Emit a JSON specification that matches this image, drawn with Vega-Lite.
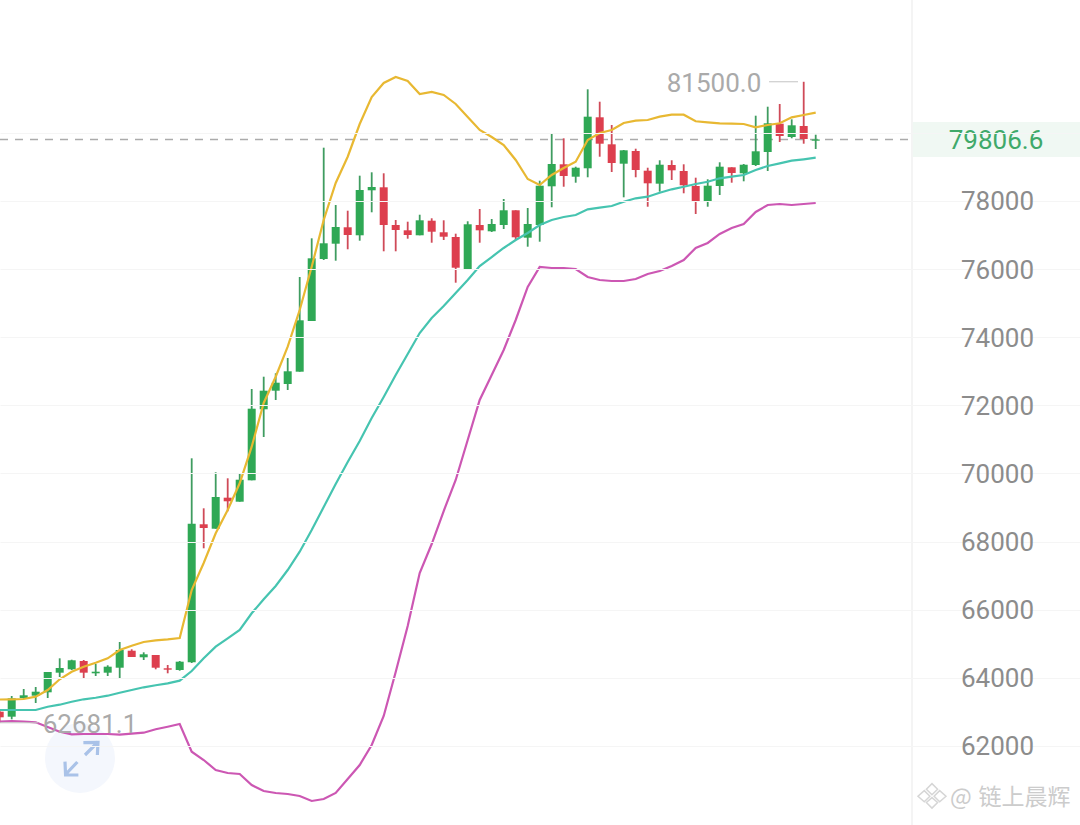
{"$schema":"https://vega.github.io/schema/vega-lite/v6.json","width":1080,"height":825,"padding":0,"autosize":{"type":"none"},"background":"white","config":{"view":{"stroke":null}},
"datasets":{"k":[
{"i":0,"dir":"down","open":63006,"high":63085,"low":62681,"close":62841,"upper":63364,"mid":63055,"lower":62718},
{"i":1,"dir":"up","open":62859,"high":63466,"low":62782,"close":63399,"upper":63370,"mid":63055,"lower":62732},
{"i":2,"dir":"up","open":63408,"high":63672,"low":63378,"close":63487,"upper":63378,"mid":63055,"lower":62718},
{"i":3,"dir":"up","open":63475,"high":63731,"low":63261,"close":63593,"upper":63446,"mid":63055,"lower":62694},
{"i":4,"dir":"up","open":63575,"high":64171,"low":63408,"close":64171,"upper":63643,"mid":63152,"lower":62556},
{"i":5,"dir":"up","open":64151,"high":64573,"low":64024,"close":64289,"upper":63957,"mid":63211,"lower":62418},
{"i":6,"dir":"up","open":64250,"high":64532,"low":64230,"close":64515,"upper":64180,"mid":63299,"lower":62342},
{"i":7,"dir":"down","open":64494,"high":64523,"low":63995,"close":64151,"upper":64327,"mid":63370,"lower":62351},
{"i":8,"dir":"up","open":64133,"high":64406,"low":64054,"close":64180,"upper":64444,"mid":63416,"lower":62351},
{"i":9,"dir":"up","open":64151,"high":64368,"low":64054,"close":64327,"upper":64573,"mid":63475,"lower":62351},
{"i":10,"dir":"up","open":64297,"high":65052,"low":63974,"close":64817,"upper":64817,"mid":63563,"lower":62330},
{"i":11,"dir":"down","open":64796,"high":64838,"low":64611,"close":64611,"upper":64943,"mid":63643,"lower":62360},
{"i":12,"dir":"up","open":64603,"high":64749,"low":64523,"close":64691,"upper":65052,"mid":63722,"lower":62389},
{"i":13,"dir":"down","open":64670,"high":64670,"low":64250,"close":64297,"upper":65102,"mid":63781,"lower":62489},
{"i":14,"dir":"down","open":64280,"high":64377,"low":64133,"close":64239,"upper":65131,"mid":63839,"lower":62565},
{"i":15,"dir":"up","open":64230,"high":64494,"low":64209,"close":64474,"upper":65169,"mid":63916,"lower":62644},
{"i":16,"dir":"up","open":64456,"high":70445,"low":64436,"close":68525,"upper":66579,"mid":64200,"lower":61831},
{"i":17,"dir":"down","open":68508,"high":68977,"low":67803,"close":68399,"upper":67371,"mid":64573,"lower":61587},
{"i":18,"dir":"up","open":68378,"high":70034,"low":68378,"close":69309,"upper":68243,"mid":64914,"lower":61294},
{"i":19,"dir":"down","open":69289,"high":69858,"low":68889,"close":69183,"upper":68927,"mid":65160,"lower":61206},
{"i":20,"dir":"up","open":69171,"high":70005,"low":69171,"close":69817,"upper":69711,"mid":65404,"lower":61176},
{"i":21,"dir":"up","open":69799,"high":72480,"low":69799,"close":71902,"upper":70786,"mid":65895,"lower":60853},
{"i":22,"dir":"up","open":71884,"high":72841,"low":71071,"close":72430,"upper":72069,"mid":66306,"lower":60677},
{"i":23,"dir":"up","open":72430,"high":72941,"low":72157,"close":72665,"upper":72841,"mid":66696,"lower":60619},
{"i":24,"dir":"up","open":72627,"high":73390,"low":72451,"close":73000,"upper":73722,"mid":67166,"lower":60589},
{"i":25,"dir":"up","open":72988,"high":75768,"low":72988,"close":74497,"upper":74799,"mid":67703,"lower":60530},
{"i":26,"dir":"up","open":74476,"high":76904,"low":74476,"close":76317,"upper":76071,"mid":68340,"lower":60384},
{"i":27,"dir":"up","open":76297,"high":79565,"low":76267,"close":76758,"upper":77442,"mid":69015,"lower":60442},
{"i":28,"dir":"up","open":76746,"high":77882,"low":76247,"close":77236,"upper":78528,"mid":69691,"lower":60619},
{"i":29,"dir":"down","open":77228,"high":77715,"low":76582,"close":77001,"upper":79300,"mid":70337,"lower":61030},
{"i":30,"dir":"up","open":76993,"high":78743,"low":76834,"close":78323,"upper":80260,"mid":70953,"lower":61441},
{"i":31,"dir":"up","open":78314,"high":78842,"low":77668,"close":78411,"upper":81053,"mid":71629,"lower":62028},
{"i":32,"dir":"down","open":78402,"high":78813,"low":76523,"close":77295,"upper":81464,"mid":72245,"lower":62879},
{"i":33,"dir":"down","open":77295,"high":77442,"low":76523,"close":77148,"upper":81640,"mid":72891,"lower":64171},
{"i":34,"dir":"down","open":77139,"high":77392,"low":76893,"close":77001,"upper":81523,"mid":73508,"lower":65522},
{"i":35,"dir":"up","open":76993,"high":77597,"low":76993,"close":77433,"upper":81141,"mid":74124,"lower":67078},
{"i":36,"dir":"down","open":77421,"high":77492,"low":76775,"close":77098,"upper":81200,"mid":74565,"lower":67929},
{"i":37,"dir":"down","open":77081,"high":77433,"low":76855,"close":76951,"upper":81112,"mid":74917,"lower":68898},
{"i":38,"dir":"down","open":76943,"high":77040,"low":75601,"close":76041,"upper":80848,"mid":75299,"lower":69808},
{"i":39,"dir":"up","open":76003,"high":77404,"low":75974,"close":77316,"upper":80466,"mid":75680,"lower":70983},
{"i":40,"dir":"down","open":77295,"high":77765,"low":76775,"close":77139,"upper":80084,"mid":76091,"lower":72157},
{"i":41,"dir":"up","open":77110,"high":77471,"low":77089,"close":77324,"upper":79879,"mid":76355,"lower":72891},
{"i":42,"dir":"up","open":77295,"high":78058,"low":77178,"close":77727,"upper":79644,"mid":76620,"lower":73625},
{"i":43,"dir":"down","open":77727,"high":77727,"low":76855,"close":76934,"upper":79203,"mid":76855,"lower":74506},
{"i":44,"dir":"up","open":76922,"high":77794,"low":76658,"close":77324,"upper":78646,"mid":77060,"lower":75475},
{"i":45,"dir":"up","open":77295,"high":78596,"low":76805,"close":78449,"upper":78469,"mid":77295,"lower":76062},
{"i":46,"dir":"up","open":78431,"high":79987,"low":77815,"close":79086,"upper":78763,"mid":77442,"lower":76033},
{"i":47,"dir":"down","open":79077,"high":79840,"low":78419,"close":78734,"upper":78969,"mid":77530,"lower":76033},
{"i":48,"dir":"up","open":78713,"high":79007,"low":78537,"close":78977,"upper":79153,"mid":77589,"lower":76003},
{"i":49,"dir":"up","open":78960,"high":81279,"low":78696,"close":80475,"upper":79791,"mid":77756,"lower":75768},
{"i":50,"dir":"down","open":80457,"high":80915,"low":79300,"close":79682,"upper":79996,"mid":77803,"lower":75680},
{"i":51,"dir":"down","open":79664,"high":80231,"low":78851,"close":79115,"upper":80084,"mid":77853,"lower":75651},
{"i":52,"dir":"up","open":79095,"high":79497,"low":78108,"close":79488,"upper":80290,"mid":77979,"lower":75651},
{"i":53,"dir":"down","open":79468,"high":79535,"low":78696,"close":78910,"upper":80357,"mid":78079,"lower":75710},
{"i":54,"dir":"down","open":78889,"high":78977,"low":77832,"close":78519,"upper":80378,"mid":78126,"lower":75856},
{"i":55,"dir":"up","open":78508,"high":79195,"low":78273,"close":79065,"upper":80475,"mid":78243,"lower":75944},
{"i":56,"dir":"down","open":79057,"high":79195,"low":78616,"close":78901,"upper":80533,"mid":78343,"lower":76091},
{"i":57,"dir":"down","open":78880,"high":79077,"low":78226,"close":78461,"upper":80533,"mid":78419,"lower":76267},
{"i":58,"dir":"down","open":78440,"high":78684,"low":77618,"close":78000,"upper":80340,"mid":78499,"lower":76620},
{"i":59,"dir":"up","open":77970,"high":78637,"low":77832,"close":78449,"upper":80310,"mid":78566,"lower":76767},
{"i":60,"dir":"up","open":78440,"high":79136,"low":78176,"close":79007,"upper":80281,"mid":78666,"lower":77031},
{"i":61,"dir":"down","open":78989,"high":78989,"low":78537,"close":78822,"upper":80269,"mid":78713,"lower":77207},
{"i":62,"dir":"up","open":78813,"high":79086,"low":78578,"close":79065,"upper":80260,"mid":78763,"lower":77324},
{"i":63,"dir":"up","open":79057,"high":80504,"low":79027,"close":79459,"upper":80163,"mid":78910,"lower":77677},
{"i":64,"dir":"up","open":79438,"high":80768,"low":78880,"close":80281,"upper":80231,"mid":79027,"lower":77882},
{"i":65,"dir":"down","open":80269,"high":80848,"low":79732,"close":79908,"upper":80281,"mid":79106,"lower":77912},
{"i":66,"dir":"up","open":79879,"high":80398,"low":79841,"close":80222,"upper":80457,"mid":79183,"lower":77882},
{"i":67,"dir":"down","open":80202,"high":81500,"low":79682,"close":79820,"upper":80525,"mid":79224,"lower":77912},
{"i":68,"dir":"up","open":79770,"high":79946,"low":79526,"close":79806.6,"upper":80592,"mid":79271,"lower":77941}
]},
"data":{"name":"k"},
"encoding":{"x":{"field":"i","type":"quantitative","axis":null,"scale":{"domain":[0.025,90.025],"nice":false,"zero":false,"padding":0}}},
"layer":[
{"data":{"values":[{"i":76.94,"i2":89.025}]},"mark":{"type":"rect","color":"white"},"encoding":{"x":{"field":"i","type":"quantitative","axis":null},"x2":{"field":"i2"},
 "y":{"datum":62000,"type":"quantitative","axis":{"title":null,"orient":"left","values":[62000,64000,66000,68000,70000,72000,74000,76000,78000,80000],"labelExpr":"datum.value>=80000?'':datum.value","grid":true,"gridColor":"#f5f5f5","gridWidth":1.2,"domain":false,"ticks":false,"tickSize":0,"labelPadding":-997,"labelOffset":1,"labelAlign":"center","labelBaseline":"middle","labelFont":"Roboto","labelFontSize":26,"labelColor":"#8c8c8c","zindex":1},"scale":{"domain":[59679,83901],"nice":false,"zero":false}},"y2":{"datum":83901}}},
{"data":{"values":[{"i":76.025}]},"mark":{"type":"rule","color":"#f0f0f0","strokeWidth":1.5},"encoding":{"x":{"field":"i","type":"quantitative","axis":null}}},
{"data":{"values":[{"i":76.085,"i2":90.025,"v":80319,"v2":79291}]},"mark":{"type":"rect","color":"#f0f8f3"},"encoding":{"x":{"field":"i","type":"quantitative","axis":null},"x2":{"field":"i2"},"y":{"field":"v","type":"quantitative"},"y2":{"field":"v2"}}},
{"data":{"values":[{"i":0.025,"i2":76.025,"v":79806.6}]},"mark":{"type":"rule","color":"#ababab","strokeWidth":1.5,"strokeDash":[8,7]},"encoding":{"x":{"field":"i","type":"quantitative","axis":null},"x2":{"field":"i2"},"y":{"field":"v","type":"quantitative"}}},
{"data":{"values":[{"i":6.69,"v":61646}]},"mark":{"type":"point","shape":"circle","filled":true,"size":4900,"color":"#f4f7fd","opacity":1},"encoding":{"x":{"field":"i","type":"quantitative","axis":null},"y":{"field":"v","type":"quantitative"}}},
{"data":{"values":[{"i":6.69,"v":61646}]},"mark":{"type":"point","shape":"M0.25 -0.15L0.9 -0.8M0.17 -0.77L0.9 -0.78L0.87 -0.15M-0.13 0.2L-0.7 0.8M-0.75 0.18L-0.72 0.85L-0.08 0.85","filled":false,"size":1600,"stroke":"#a9c2e8","strokeWidth":3.2,"opacity":1},"encoding":{"x":{"field":"i","type":"quantitative","axis":null},"y":{"field":"v","type":"quantitative"}}},
{"mark":{"type":"rule","strokeWidth":1.8},"encoding":{"y":{"field":"high","type":"quantitative"},"y2":{"field":"low"},"color":{"field":"dir","type":"nominal","legend":null,"scale":{"domain":["up","down"],"range":["#3f9c60","#cf4a58"]}}}},
{"mark":{"type":"bar","size":8},"encoding":{"y":{"field":"open","type":"quantitative"},"y2":{"field":"close"},"fill":{"field":"dir","type":"nominal","legend":null,"scale":{"domain":["up","down"],"range":["#2fa855","#dd3f4e"]}}}},
{"mark":{"type":"line","color":"#e8b832","strokeWidth":2.2,"interpolate":"linear"},"encoding":{"y":{"field":"upper","type":"quantitative"}}},
{"mark":{"type":"line","color":"#46c4b0","strokeWidth":2.2,"interpolate":"linear"},"encoding":{"y":{"field":"mid","type":"quantitative"}}},
{"mark":{"type":"line","color":"#cc57b3","strokeWidth":2.2,"interpolate":"linear"},"encoding":{"y":{"field":"lower","type":"quantitative"}}},
{"data":{"values":[{"i":64.11,"i2":66.525,"v":81500},{"i":0.025,"i2":3.2,"v":62681}]},"mark":{"type":"rule","color":"#c4c4c4","strokeWidth":1},"encoding":{"x":{"field":"i","type":"quantitative","axis":null},"x2":{"field":"i2"},"y":{"field":"v","type":"quantitative"}}},
{"data":{"values":[{"i":59.525,"v":81500,"t":"81500.0"},{"i":7.525,"v":62681,"t":"62681.1"}]},"mark":{"type":"text","font":"Roboto","fontSize":26,"color":"#aaaaaa","align":"center","baseline":"middle","dy":2},"encoding":{"x":{"field":"i","type":"quantitative","axis":null},"y":{"field":"v","type":"quantitative"},"text":{"field":"t"}}},
{"data":{"values":[{"i":83.025,"v":79806.6,"t":"79806.6"}]},"mark":{"type":"text","font":"Roboto","fontSize":26,"color":"#3fa96a","align":"center","baseline":"middle","dy":2},"encoding":{"x":{"field":"i","type":"quantitative","axis":null},"y":{"field":"v","type":"quantitative"},"text":{"field":"t"}}},
{"data":{"values":[{"i":80.1,"v":60472,"t":"@"},{"i":85.4,"v":60472,"t":"链上晨辉"}]},"mark":{"type":"text","font":"Noto Sans CJK SC","fontSize":23,"color":"#cccccc","align":"center","baseline":"middle"},"encoding":{"x":{"field":"i","type":"quantitative","axis":null},"y":{"field":"v","type":"quantitative"},"text":{"field":"t"}}},
{"data":{"values":[{"i":77.69,"v":60545}]},"mark":{"type":"point","shape":"M0 -0.85L0.4 -0.45L0 -0.05L-0.4 -0.45ZM-0.55 -0.35L-1 0.05L-0.55 0.45L-0.15 0.05ZM0.55 -0.35L1 0.05L0.55 0.45L0.15 0.05ZM-0.4 0.5L0 0.9L0.4 0.5L0 0.15Z","filled":false,"size":784,"stroke":"#d6d6d6","strokeWidth":1.5,"opacity":1},"encoding":{"x":{"field":"i","type":"quantitative","axis":null},"y":{"field":"v","type":"quantitative"}}}
]}
